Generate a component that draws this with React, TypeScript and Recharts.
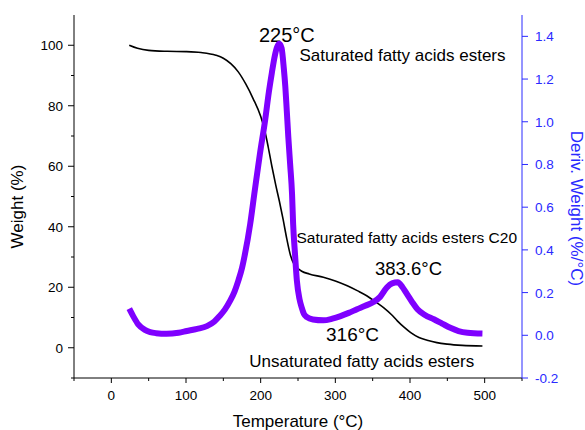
import { Line, LineChart, XAxis, YAxis } from 'recharts';

// TGA weight loss curve (°C, %)
const weightTemp = [
    24, 35, 50, 75, 100, 120, 140, 150, 160, 170, 180, 190, 200, 205, 210,
    215, 220, 225, 230, 235, 240, 245, 250, 255, 265, 284, 300, 316, 330, 342,
    355, 365, 375, 383, 392, 401, 412, 423, 436, 450, 470, 497,
];
const weightPct = [
    100, 99, 98.3, 98, 97.9, 97.6, 96.7, 95.7, 93.9, 91.2, 87.2, 82.3, 76.5,
    72.3, 66.5, 60, 54, 48.5, 42.5, 36, 30.5, 27.5, 26.2, 25.3, 24.4, 23.3,
    22.1, 20.5, 18.8, 17.2, 15, 13.2, 11, 8.9, 6.8, 5, 3.4, 2.5, 1.7, 1.2, 0.8,
    0.6,
];

// DTG derivative curve (°C, %/°C)
const derivTemp = [
    24, 30, 36, 45, 52, 60, 74, 90, 101, 115, 128, 138, 145, 152, 159, 165,
    170, 175, 179, 186, 192, 199, 206, 211, 215, 219, 222, 225, 228, 231, 233,
    235, 237, 239.5, 242, 243.5, 246, 248.5, 252, 255, 258, 262, 270, 284, 296,
    307, 318, 329, 340, 351, 360, 369, 376, 383.6, 390, 396, 403, 410, 420, 432,
    443, 454, 465, 477, 497,
];
const derivVal = [
    0.125, 0.085, 0.051, 0.025, 0.015, 0.01, 0.007, 0.012, 0.02, 0.03, 0.043,
    0.065, 0.09, 0.12, 0.161, 0.205, 0.255, 0.315, 0.381, 0.522, 0.675, 0.85,
    1.008, 1.14, 1.23, 1.31, 1.35, 1.365, 1.345, 1.25, 1.165, 1.05, 0.93, 0.8,
    0.663, 0.52, 0.38, 0.255, 0.17, 0.13, 0.1, 0.085, 0.074, 0.07, 0.078, 0.09,
    0.105, 0.122, 0.138, 0.156, 0.18, 0.224, 0.243, 0.248, 0.225, 0.193, 0.155,
    0.122, 0.095, 0.075, 0.055, 0.035, 0.02, 0.012, 0.008,
];

const tempTicks = [-50, 0, 50, 100, 150, 200, 250, 300, 350, 400, 450, 500, 550];
const weightTicks = [-10, 0, 10, 20, 30, 40, 50, 60, 70, 80, 90, 100];
const derivTicks = [
    -0.2, -0.1, 0, 0.1, 0.2, 0.3, 0.4, 0.5, 0.6, 0.7, 0.8, 0.9, 1.0, 1.1, 1.2,
    1.3, 1.4,
];

const weightData = weightTemp.map((t, i) => ({ t, w: weightPct[i] }));
const derivData = derivTemp.map((t, i) => ({ t, d: derivVal[i] }));

const FONT = '"Liberation Sans", Arial, sans-serif';
const BLUE = '#2a2aff';
const PURPLE = '#7f00ff';

const BottomTick = (p: any) => {
    const v = p.payload.value;
    const major = v % 100 === 0;
    return (
        <g>
            <line x1={p.x} x2={p.x} y1={p.y} y2={p.y + (major ? 5 : 3)} stroke="#000" />
            {major && v >= 0 && v <= 500 && (
                <text x={p.x} y={p.y + 22} textAnchor="middle" fontSize={13.5} fontFamily={FONT} fill="#000">
                    {v}
                </text>
            )}
        </g>
    );
};

const TopTick = (p: any) => (
    <line x1={p.x} x2={p.x} y1={p.y} y2={p.y + 5} stroke="#000" />
);

const WeightTick = (p: any) => {
    const v = p.payload.value;
    const major = v % 20 === 0;
    return (
        <g>
            <line x1={p.x} x2={p.x - (major ? 6 : 3)} y1={p.y} y2={p.y} stroke="#000" />
            {major && (
                <text x={p.x - 11} y={p.y + 5} textAnchor="end" fontSize={13.5} fontFamily={FONT} fill="#000">
                    {v}
                </text>
            )}
        </g>
    );
};

const DerivTick = (p: any) => {
    const v = p.payload.value;
    const major = Math.round(v * 10) % 2 === 0;
    return (
        <g>
            <line x1={p.x} x2={p.x + (major ? 6 : 4)} y1={p.y} y2={p.y} stroke={BLUE} />
            {major && (
                <text x={p.x + 13} y={p.y + 5} textAnchor="start" fontSize={13.5} fontFamily={FONT} fill={BLUE}>
                    {v.toFixed(1)}
                </text>
            )}
        </g>
    );
};

export default function App() {
    return (
        <div style={{ position: 'absolute', left: 0, top: 0, background: '#fff' }}>
            <LineChart
                width={585}
                height={430}
                margin={{ top: 15, right: 0, bottom: 0, left: 0 }}
            >
                <XAxis
                    xAxisId="bottom"
                    dataKey="t"
                    type="number"
                    domain={[-50, 550]}
                    ticks={tempTicks}
                    tick={(p: any) => <BottomTick {...p} />}
                    tickLine={false}
                    tickSize={0}
                    tickMargin={0}
                    height={52}
                    stroke="#000"
                    allowDataOverflow
                />
                <XAxis
                    xAxisId="top"
                    orientation="top"
                    dataKey="t"
                    type="number"
                    domain={[-50, 550]}
                    ticks={tempTicks}
                    tick={(p: any) => <TopTick {...p} />}
                    tickLine={false}
                    tickSize={0}
                    tickMargin={0}
                    height={0}
                    stroke="#000"
                    allowDataOverflow
                />
                <YAxis
                    yAxisId="w"
                    type="number"
                    domain={[-10, 110]}
                    ticks={weightTicks}
                    tick={(p: any) => <WeightTick {...p} />}
                    tickLine={false}
                    tickSize={0}
                    tickMargin={0}
                    width={74}
                    stroke="#000"
                    allowDataOverflow
                />
                <YAxis
                    yAxisId="d"
                    orientation="right"
                    type="number"
                    domain={[-0.2, 1.5]}
                    ticks={derivTicks}
                    tick={(p: any) => <DerivTick {...p} />}
                    tickLine={false}
                    tickSize={0}
                    tickMargin={0}
                    width={63}
                    stroke={BLUE}
                    allowDataOverflow
                />
                <Line
                    xAxisId="bottom"
                    yAxisId="w"
                    data={weightData}
                    dataKey="w"
                    type="monotone"
                    stroke="#000"
                    strokeWidth={1.6}
                    dot={false}
                    isAnimationActive={false}
                />
                <Line
                    xAxisId="bottom"
                    yAxisId="d"
                    data={derivData}
                    dataKey="d"
                    type="monotone"
                    stroke={PURPLE}
                    strokeWidth={6}
                    dot={false}
                    isAnimationActive={false}
                />
                {/* axis titles */}
                <text x={22.5} y={206.5} transform="rotate(-90 22.5 206.5)" textAnchor="middle" fontSize={17} fontFamily={FONT} fill="#000">
                    Weight (%)
                </text>
                <text x={298} y={427} textAnchor="middle" fontSize={17} fontFamily={FONT} fill="#000">
                    Temperature (°C)
                </text>
                <text x={571} y={208.5} transform="rotate(90 571 208.5)" textAnchor="middle" fontSize={17} fontFamily={FONT} fill={BLUE}>
                    Deriv. Weight (%/°C)
                </text>
                {/* annotations */}
                <g fontFamily={FONT} fill="#000">
                    <text x={259} y={41.5} fontSize={20}>225°C</text>
                    <text x={299.5} y={61} fontSize={17}>Saturated fatty acids esters</text>
                    <text x={296.5} y={242.7} fontSize={15.5}>Saturated fatty acids esters C20</text>
                    <text x={375} y={275} fontSize={18.5}>383.6°C</text>
                    <text x={326} y={340.7} fontSize={19}>316°C</text>
                    <text x={249.3} y={367.3} fontSize={17}>Unsaturated fatty acids esters</text>
                </g>
            </LineChart>
        </div>
    );
}
